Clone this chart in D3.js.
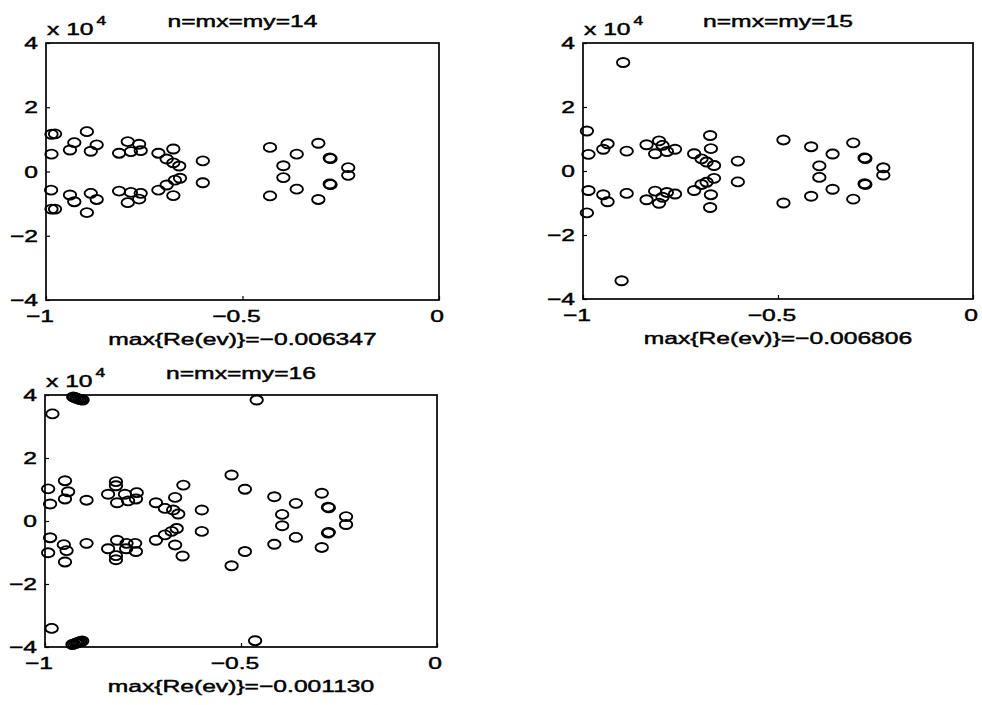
<!DOCTYPE html>
<html><head><meta charset="utf-8">
<script src="https://cdn.jsdelivr.net/npm/d3@7"></script>
<style>
body{margin:0;background:#fff}
svg{display:block}
text{font-family:"Liberation Sans",Arial,Helvetica,sans-serif;fill:#000;stroke:#000;stroke-width:0.45px}
</style>
</head><body>
<svg id="c" width="982" height="705"></svg>
<script>
// ---- data (imaginary parts in units of 1e4) ----
const xTicks = [-1, -0.5, 0];
const xTickLabels = ["\u22121", "\u22120.5", "0"];
const yTicks = [-4, -2, 0, 2, 4];
const yTickLabels = ["\u22124", "\u22122", "0", "2", "4"];
const titles = ["n=mx=my=14", "n=mx=my=15", "n=mx=my=16"];
const xLabels = ["max{Re(ev)}=\u22120.006347", "max{Re(ev)}=\u22120.006806", "max{Re(ev)}=\u22120.001130"];
const scaleExponent = "4";

const re14 = [-0.986,-0.977,-0.986,-0.987,-0.986,-0.977,-0.939,-0.928,-0.896,-0.886,-0.871,-0.939,-0.928,-0.896,-0.886,-0.871,
  -0.814,-0.792,-0.784,-0.763,-0.759,-0.814,-0.792,-0.784,-0.763,-0.759,
  -0.714,-0.693,-0.676,-0.676,-0.661,-0.714,-0.693,-0.676,-0.672,-0.659,-0.601,-0.601,
  -0.430,-0.362,-0.307,-0.278,-0.276,-0.396,-0.396,-0.231,-0.231,-0.430,-0.362,-0.307,-0.278,-0.276];
const im14 = [1.16,1.17,0.54,-0.58,-1.17,-1.17,0.67,0.90,1.24,0.63,0.83,-0.73,-0.94,-1.28,-0.68,-0.87,
  0.57,0.93,0.62,0.85,0.65,-0.61,-0.97,-0.65,-0.86,-0.68,
  0.57,0.39,0.70,0.27,0.17,-0.58,-0.42,-0.75,-0.27,-0.21,0.33,-0.35,
  0.75,0.54,0.88,0.42,0.40,0.18,-0.19,0.12,-0.12,-0.76,-0.55,-0.87,-0.39,-0.41];

const re15 = [-0.897,-0.901,-0.990,-0.986,-0.986,-0.990,-0.948,-0.937,-0.948,-0.937,-0.888,-0.888,
  -0.837,-0.815,-0.805,-0.796,-0.785,-0.764,-0.837,-0.815,-0.805,-0.796,-0.785,-0.764,
  -0.715,-0.696,-0.674,-0.672,-0.683,-0.664,-0.715,-0.696,-0.674,-0.672,-0.683,-0.664,
  -0.603,-0.603,-0.486,-0.486,
  -0.415,-0.360,-0.307,-0.278,-0.276,-0.394,-0.394,-0.230,-0.230,-0.415,-0.360,-0.307,-0.278,-0.276];
const im15 = [3.39,-3.43,1.25,0.52,-0.61,-1.31,0.68,0.85,-0.74,-0.96,0.62,-0.70,
  0.82,0.54,0.94,0.80,0.61,0.68,-0.90,-0.63,-1.01,-0.82,-0.67,-0.72,
  0.54,0.38,1.11,0.70,0.28,0.17,-0.61,-0.42,-1.14,-0.74,-0.35,-0.23,
  0.31,-0.34,0.97,-1.00,
  0.76,0.53,0.88,0.41,0.39,0.16,-0.20,0.10,-0.13,-0.79,-0.57,-0.88,-0.40,-0.42];

const re16 = [-0.928,-0.924,-0.920,-0.916,-0.912,-0.908,-0.904,-0.930,-0.926,-0.921,-0.917,-0.913,-0.909,-0.905,-0.981,-0.983,
  -0.992,-0.987,-0.949,-0.941,-0.949,-0.894,-0.819,-0.819,-0.839,-0.816,-0.796,-0.788,-0.766,-0.768,
  -0.992,-0.987,-0.949,-0.945,-0.952,-0.894,-0.819,-0.819,-0.839,-0.816,-0.793,-0.792,-0.770,-0.768,
  -0.717,-0.694,-0.668,-0.673,-0.660,-0.647,-0.600,
  -0.717,-0.694,-0.668,-0.677,-0.664,-0.649,-0.600,
  -0.460,-0.464,-0.524,-0.490,-0.524,-0.490,
  -0.415,-0.360,-0.395,-0.395,-0.294,-0.278,-0.276,-0.232,-0.232,-0.415,-0.360,-0.294,-0.278,-0.276];
const im16 = [3.94,3.92,3.90,3.88,3.86,3.85,3.84,-3.92,-3.90,-3.88,-3.86,-3.84,-3.82,-3.81,3.40,-3.41,
  1.02,0.54,1.28,0.93,0.70,0.66,1.25,1.12,0.85,0.58,0.85,0.64,0.90,0.70,
  -1.01,-0.53,-1.30,-0.94,-0.75,-0.71,-1.23,-1.10,-0.88,-0.61,-0.88,-0.71,-0.71,-0.97,
  0.58,0.40,0.75,0.35,0.22,1.14,0.35,
  -0.61,-0.44,-0.76,-0.33,-0.24,-1.11,-0.33,
  3.84,-3.80,1.46,1.01,-1.42,-0.97,
  0.77,0.56,0.21,-0.15,0.88,0.44,0.42,0.14,-0.11,-0.74,-0.52,-0.84,-0.38,-0.36];

// ---- layout ----
const panels = [
  {l:46,  r:439, t:43,  b:300, title:titles[0], xl:xLabels[0], re:re14, im:im14},
  {l:583, r:973, t:43,  b:299, title:titles[1], xl:xLabels[1], re:re15, im:im15},
  {l:45,  r:437, t:395, b:647, title:titles[2], xl:xLabels[2], re:re16, im:im16}
];
const SX = 1.45, FS = 17;
const svg = d3.select("#c");
svg.append("rect").attr("width",982).attr("height",705).attr("fill","#fff");

function txt(g, x, y, s, anchor, size) {
  return g.append("text")
    .attr("transform", `translate(${x},${y}) scale(${SX},1)`)
    .attr("text-anchor", anchor)
    .attr("font-size", size || FS)
    .text(s);
}

panels.forEach(p => {
  const g = svg.append("g");
  const x = d3.scaleLinear().domain([-1, 0]).range([p.l, p.r]);
  const y = d3.scaleLinear().domain([-4, 4]).range([p.b, p.t]);

  // inward ticks
  g.append("g").attr("transform", `translate(${p.l},0)`)
    .call(d3.axisRight(y).tickValues(yTicks).tickSize(4).tickFormat(""))
    .call(a => a.select(".domain").remove())
    .selectAll("line").attr("stroke","#000").attr("stroke-width",1.2);
  g.append("g").attr("transform", `translate(0,${p.b})`)
    .call(d3.axisTop(x).tickValues(xTicks).tickSize(4).tickFormat(""))
    .call(a => a.select(".domain").remove())
    .selectAll("line").attr("stroke","#000").attr("stroke-width",1.2);

  // box
  g.append("rect").attr("x", p.l).attr("y", p.t)
    .attr("width", p.r - p.l).attr("height", p.b - p.t)
    .attr("fill", "none").attr("stroke", "#000").attr("stroke-width", 1.7);

  // tick labels
  yTicks.forEach((t, i) => txt(g, p.l - 8, y(t) + 6, yTickLabels[i], "end"));
  xTicks.forEach((t, i) => txt(g, x(t) + (t < 0 ? -6 : -2), p.b + 22, xTickLabels[i], "middle"));

  // exponent label
  const e = txt(g, p.l + 1, p.t - 8, "x 10", "start");
  e.append("tspan").attr("dx", 2).attr("dy", -10).attr("font-size", 12).text(scaleExponent);

  // title and xlabel
  txt(g, (p.l + p.r) / 2, p.t - 16, p.title, "middle");
  txt(g, (p.l + p.r) / 2, p.b + 45, p.xl, "middle");

  // markers
  g.append("g").selectAll("ellipse")
    .data(p.re.map((v, i) => [v, p.im[i]]))
    .join("ellipse")
    .attr("cx", d => x(d[0])).attr("cy", d => y(d[1]))
    .attr("rx", 6.2).attr("ry", 4.5)
    .attr("fill", "none").attr("stroke", "#000").attr("stroke-width", 1.9);
});
</script>
</body></html>
